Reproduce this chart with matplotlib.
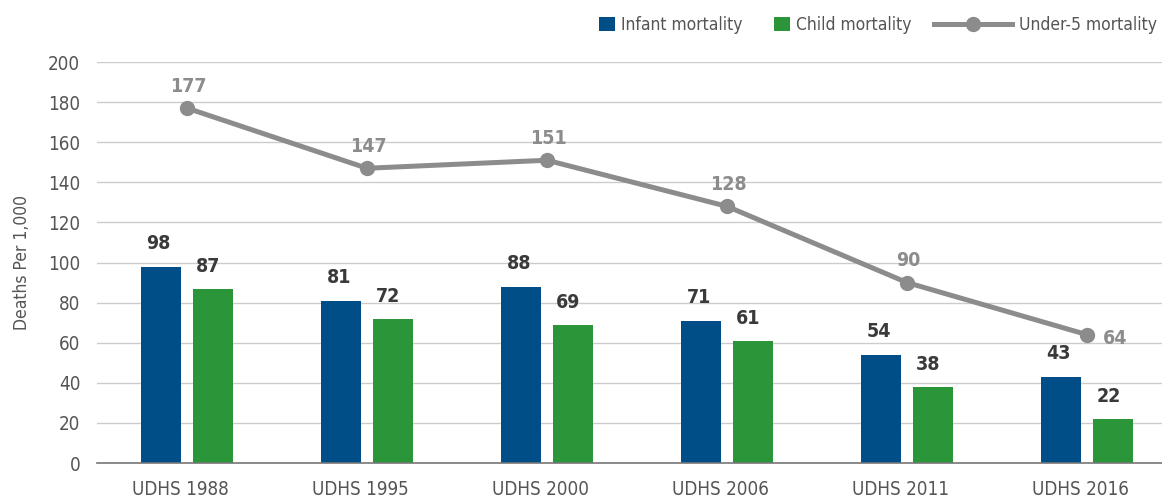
import numpy as np
import matplotlib
matplotlib.use("Agg")
import matplotlib.pyplot as plt
from matplotlib.lines import Line2D
from matplotlib.patches import Patch
from matplotlib.transforms import ScaledTranslation

# 数据
surveys = ["UDHS 1988", "UDHS 1995", "UDHS 2000", "UDHS 2006", "UDHS 2011", "UDHS 2016"]
infant = [98, 81, 88, 71, 54, 43]
child = [87, 72, 69, 61, 38, 22]
under5 = [177, 147, 151, 128, 90, 64]

BLUE = "#004E87"
GREEN = "#2A9639"
GRAY = "#8C8C8C"
TXT = "#555555"
DARK = "#3A3A3A"

# 窄体字，接近原图
plt.rcParams["font.family"] = ["DejaVu Sans"]
plt.rcParams["font.stretch"] = "condensed"

fig = plt.figure(figsize=(11.62, 4.98), dpi=100)
ax = fig.add_axes([97 / 1162, 35 / 498, 1080 / 1162, 401 / 498])

x = np.arange(len(surveys))
bw = 0.222
off = 0.142
ax.bar(x - off, infant, bw, color=BLUE, zorder=2)
ax.bar(x + off, child, bw, color=GREEN, zorder=2)
ax.plot(x, under5, color=GRAY, lw=3.6, marker="o", ms=10, zorder=3)

for i in range(len(x)):
    ax.annotate(str(infant[i]), (x[i] - off, infant[i]), xytext=(-2, 10),
                textcoords="offset points", ha="center", va="bottom",
                fontsize=14, fontweight="bold", color=DARK)
    ax.annotate(str(child[i]), (x[i] + off, child[i]), xytext=(-3, 9),
                textcoords="offset points", ha="center", va="bottom",
                fontsize=14, fontweight="bold", color=DARK)
    if i == len(x) - 1:
        ax.annotate(str(under5[i]), (x[i], under5[i]), xytext=(20, -3),
                    textcoords="offset points", ha="center", va="center",
                    fontsize=14, fontweight="bold", color=GRAY)
    else:
        ax.annotate(str(under5[i]), (x[i], under5[i]), xytext=(1, 9),
                    textcoords="offset points", ha="center", va="bottom",
                    fontsize=14, fontweight="bold", color=GRAY)

ax.set_xlim(-0.5, 5.5)
ax.set_ylim(0, 200)
ax.set_yticks(np.arange(0, 201, 20))
ax.set_xticks(x)
ax.set_xticklabels(surveys)
ax.tick_params(axis="both", length=0, labelsize=13.5, colors=TXT)
ax.tick_params(axis="x", pad=12)
ax.tick_params(axis="y", pad=12)
shift = ScaledTranslation(-7 / 100, 0, fig.dpi_scale_trans)
for lbl in ax.get_xticklabels():
    lbl.set_transform(lbl.get_transform() + shift)

ax.grid(axis="y", color="#CCCCCC", lw=1, zorder=0)
ax.set_axisbelow(True)
for s in ["top", "right", "left"]:
    ax.spines[s].set_visible(False)
ax.spines["bottom"].set_color("#777777")
ax.spines["bottom"].set_linewidth(1.2)
ax.set_ylabel("Deaths Per 1,000", fontsize=12.5, color=TXT, labelpad=12)

# 图例：方块和折线分开放
bar_handles = [
    Patch(facecolor=BLUE, label="Infant mortality"),
    Patch(facecolor=GREEN, label="Child mortality"),
]
leg1 = fig.legend(handles=bar_handles, loc="center left", bbox_to_anchor=(599 / 1162, 0.95),
                  ncol=2, frameon=False, fontsize=12.5, handlelength=0.92, handleheight=0.92,
                  columnspacing=1.8, handletextpad=0.35, borderpad=0, borderaxespad=0)
line_handle = [Line2D([0], [0], color=GRAY, lw=3.6, marker="o", ms=10, label="Under-5 mortality")]
leg2 = fig.legend(handles=line_handle, loc="center right", bbox_to_anchor=(1157 / 1162, 0.95),
                  frameon=False, fontsize=12.5, handlelength=4.5, handletextpad=0.4,
                  borderpad=0, borderaxespad=0)
for lg in (leg1, leg2):
    for t in lg.get_texts():
        t.set_color(TXT)

fig.savefig("out.png", dpi=100)
